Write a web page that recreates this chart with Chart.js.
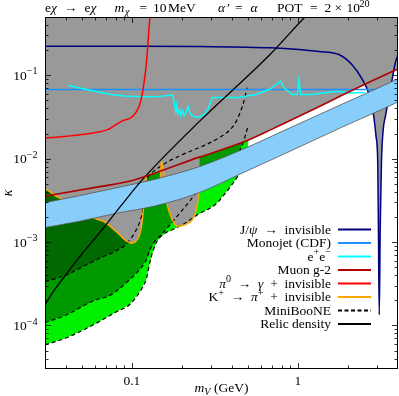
<!DOCTYPE html>
<html>
<head>
<meta charset="utf-8">
<script src="https://cdn.jsdelivr.net/npm/chart.js@4.4.0/dist/chart.umd.min.js"></script>
<style>
  html, body { margin: 0; padding: 0; background: #fff; }
</style>
</head>
<body>
<canvas id="chart" width="399" height="396"></canvas>
<script>
// axes (m_V in GeV, kappa)
const xRange = [0.03, 4];
const yRange = [3e-5, 0.5];
const xMajor = [0.1, 1];
const xMajorLabels = ["0.1", "1"];
const yMajor = [1e-4, 1e-3, 1e-2, 1e-1];
const yMajorExp = ["\u22124", "\u22123", "\u22122", "\u22121"];

// MiniBooNE sensitivity contours (inner -> outer)
const booneInner = [[0.03,0.000334],[0.0405,0.000405],[0.05193,0.00052],[0.0639,0.000639],[0.07861,0.000765],[0.0902,0.000903],[0.09943,0.001127],[0.1065,0.00141],[0.1126,0.00185],[0.1165,0.00244],[0.1198,0.0037],[0.1223,0.0053],[0.1275,0.00634],[0.1367,0.00718],[0.1526,0.00836],[0.1736,0.00973],[0.2012,0.01118],[0.2375,0.01284],[0.2803,0.01474],[0.3355,0.01788],[0.3852,0.0217],[0.4244,0.02782],[0.4484,0.0357],[0.474,0.0497],[0.4941,0.0712],[0.508,0.1773],[0.5222,0.615]];
const booneMiddle = [[0.03,0.000108],[0.0405,0.000134],[0.05881,0.000198],[0.07336,0.000227],[0.08422,0.000275],[0.09672,0.000353],[0.111,0.000465],[0.1223,0.000613],[0.1286,0.000809],[0.1367,0.00101],[0.1464,0.00116],[0.1681,0.00157],[0.1931,0.00219],[0.2216,0.00305],[0.2442,0.00391],[0.3355,0.00718],[0.4484,0.01284],[0.474,0.01692],[0.4975,0.02358],[0.5115,0.0674],[0.5222,0.6]];
const booneOuter = [[0.03,5.85e-5],[0.0405,7.1e-5],[0.05881,0.000102],[0.08082,0.000146],[0.09672,0.000177],[0.1126,0.00026],[0.1223,0.000363],[0.1286,0.00058],[0.1348,0.000809],[0.1424,0.001037],[0.1569,0.001259],[0.1801,0.001445],[0.2068,0.00166],[0.2544,0.00219],[0.2922,0.00251],[0.3219,0.00288],[0.3595,0.0037],[0.3961,0.00475],[0.4244,0.00576],[0.4484,0.00699],[0.501,0.01433],[0.508,0.0294],[0.5151,0.1544],[0.5222,0.6]];

// constraints
const jpsi = [[0.03,0.2231],[0.111,0.2231],[0.2544,0.2213],[0.688,0.2135],[1.014,0.2036],[1.337,0.1927],[1.762,0.1773],[2.109,0.1345],[2.422,0.0913],[2.668,0.0603],[2.858,0.0322],[2.951,0.01838],[3.021,0.00896],[3.05,0.0014],[3.085,0.000134],[3.125,0.0014],[3.179,0.00896],[3.259,0.0223],[3.359,0.0322],[3.6,0.0674],[3.858,0.1422],[4.0,0.175]];
const monojet = [[0.03,0.0674],[4,0.0674]];
const eeData = [[0.04123,0.07591],[0.04847,0.0703],[0.05963,0.06429],[0.0751,0.0587],[0.0902,0.0563],[0.1137,0.05508],[0.1367,0.05508],[0.176,0.0579],[0.1801,0.0471],[0.1839,0.03668],[0.1865,0.0445],[0.1891,0.03471],[0.1931,0.0388],[0.1971,0.03284],[0.2012,0.03772],[0.2068,0.03284],[0.2127,0.03668],[0.2186,0.0421],[0.2232,0.0357],[0.231,0.03284],[0.2408,0.0315],[0.2544,0.0315],[0.2727,0.0338],[0.2882,0.0399],[0.2983,0.0484],[0.3045,0.054],[0.4423,0.054],[0.5571,0.0587],[0.6696,0.0674],[0.7873,0.0848],[0.824,0.0706],[0.9241,0.0587],[0.99,0.0587],[1.0137,0.0889],[1.038,0.0587],[1.218,0.0587],[1.535,0.0625],[1.762,0.0643],[2.023,0.0615],[2.524,0.062]];
const muonG2 = [[0.03,0.00355],[0.0639,0.004615],[0.0967,0.00535],[0.1348,0.00661],[0.2544,0.01043],[0.4611,0.01558],[0.6883,0.0223],[1.164,0.03668],[2.109,0.0656],[3.927,0.1171],[4.0,0.119]];
const pi0Data = [[0.03,0.01764],[0.04033,0.01854],[0.05824,0.02036],[0.07138,0.0223],[0.08659,0.02805],[0.1008,0.03194],[0.1065,0.0367],[0.111,0.0433],[0.1142,0.054],[0.1165,0.0656],[0.119,0.0889],[0.1218,0.1273],[0.1249,0.2338],[0.1266,0.354],[0.1284,0.5],[0.1295,0.7]];
const kaonA = [[0.03,0.00435],[0.032,0.00402],[0.03383,0.0037],[0.03676,0.003358],[0.0405,0.003092],[0.04983,0.00244],[0.0613,0.001879],[0.06846,0.00175],[0.07438,0.00153],[0.08193,0.00129],[0.08902,0.0011],[0.09408,0.00101],[0.09943,0.000968],[0.1051,0.00101],[0.1095,0.001127],[0.1126,0.00133],[0.1149,0.00166],[0.1165,0.00213],[0.1181,0.00281],[0.1198,0.0037],[0.1215,0.00501],[0.1223,0.00626]];
const kaonB = [[0.1485,0.00545],[0.1495,0.00738],[0.1505,0.00934],[0.1537,0.0078],[0.1569,0.0056],[0.1602,0.0037],[0.1624,0.00297],[0.1681,0.00231],[0.1777,0.00175],[0.1878,0.00155],[0.2012,0.00157],[0.2156,0.00166],[0.231,0.00185],[0.2408,0.00219],[0.2476,0.00281],[0.2527,0.0038],[0.2562,0.0056]];
const relic = [[0.03,1.77e-4],[0.0343,2.68e-4],[0.0405,4.17e-4],[0.05193,7.87e-4],[0.0639,1.29e-3],[0.08422,2.58e-3],[0.1157,5.6e-3],[0.2544,0.0278],[0.688,0.1823],[1.101,0.5],[1.337,0.726]];

// muon g-2 favoured band
const bandLow = [[0.03,0.00149],[0.04847,0.001778],[0.08422,0.00225],[0.1348,0.002677],[0.2544,0.00391],[0.4611,0.0067],[0.847,0.01165],[1.762,0.02293],[3.927,0.0471],[4,0.048]];
const bandHigh = [[0.03,0.00297],[0.04847,0.0036],[0.08422,0.00455],[0.1348,0.0056],[0.2544,0.00802],[0.4611,0.01284],[0.847,0.0223],[1.762,0.0433],[3.927,0.0889],[4,0.0905]];

// lower edge of the excluded (grey) region
const grayEdge = [
  ...kaonA,
  [0.1275,0.00638],[0.1348,0.00661],[0.1485,0.00707],[0.1495,0.0037],[0.1569,0.0031],
  ...kaonB.slice(6, 16),
  [0.2562,0.0105],
  ...muonG2.slice(5, 9),
  [2.534,0.0776],
  ...jpsi.slice(9, 20),
  [3.768,0.111],
  ...muonG2.slice(9)
];

const ARROW = "\u2002\u2192\u2002";
const PLUS = "\u2002+\u2002";
const legendLabels = [
  [["J/",""],["\u03c8","i"],[ARROW,""],["invisible",""]],
  [["Monojet (CDF)",""]],
  [["e",""],["+","^"],["e",""],["\u2212","^"]],
  [["Muon g-2",""]],
  [["\u03c0","i"],["0","^"],[ARROW,""],["\u03b3","i"],[PLUS,""],["invisible",""]],
  [["K",""],["+","^"],[ARROW,""],["\u03c0","i"],["+","^"],[PLUS,""],["invisible",""]],
  [["MiniBooNE",""]],
  [["Relic density",""]]
];
const legendColors = ["#000080","#1e90ff","#00ffff","#b00000","#ff0000","#ffa500","#000000","#000000"];

const SERIF = '"Liberation Serif", "Times New Roman", serif';

const pts = arr => arr.map(([x, y]) => ({ x, y }));

function fillSet(data, color) {
  return { data: pts(data), fill: "end", backgroundColor: color, borderColor: "rgba(0,0,0,0)", borderWidth: 0, pointRadius: 0, tension: 0 };
}

function lineSet(data, color, width, extra) {
  return Object.assign({
    data: pts(data), fill: false, borderColor: color, borderWidth: width,
    pointRadius: 0, cubicInterpolationMode: "monotone"
  }, extra || {});
}

function font(style, size) {
  const small = /[\^_]/.test(style);
  return (style.includes("i") ? "italic " : "") + (small ? size * 0.75 : size) + "px " + SERIF;
}

// text with super/subscripts
function richText(ctx, parts, x, y, size, align) {
  let w = 0;
  for (const [t, st] of parts) { ctx.font = font(st, size); w += ctx.measureText(t).width; }
  let cx = align === "right" ? x - w : align === "center" ? x - w / 2 : x;
  ctx.textAlign = "left";
  ctx.textBaseline = "alphabetic";
  for (const [t, st] of parts) {
    ctx.font = font(st, size);
    const dy = st.includes("^") ? -size * 0.4 : st.includes("_") ? size * 0.25 : 0;
    ctx.fillText(t, cx, y + dy);
    cx += ctx.measureText(t).width;
  }
}

function logTicks(range) {
  const out = [];
  for (let e = -6; e <= 1; e++) {
    for (let k = 1; k <= 9; k++) {
      const v = k * Math.pow(10, e);
      if (v > range[0] * 1.001 && v < range[1] * 0.999) out.push([v, k === 1]);
    }
  }
  return out;
}

const decorations = {
  id: "decorations",
  afterDraw(chart) {
    const { ctx, chartArea: a } = chart;
    const xs = chart.scales.x, ys = chart.scales.y;
    ctx.save();
    ctx.fillStyle = "#000";
    ctx.strokeStyle = "#000";

    // inward ticks on all four sides
    ctx.lineWidth = 0.8;
    const seg = (x1, y1, x2, y2) => { ctx.beginPath(); ctx.moveTo(x1, y1); ctx.lineTo(x2, y2); ctx.stroke(); };
    logTicks(xRange).forEach(([v, major]) => {
      const p = Math.round(xs.getPixelForValue(v)) + 0.5, len = major ? 6 : 3.5;
      seg(p, a.bottom, p, a.bottom - len);
      seg(p, a.top, p, a.top + len);
    });
    logTicks(yRange).forEach(([v, major]) => {
      const p = Math.round(ys.getPixelForValue(v)) + 0.5, len = major ? 6 : 3.5;
      seg(a.left, p, a.left + len, p);
      seg(a.right, p, a.right - len, p);
    });

    // frame
    ctx.lineWidth = 1;
    ctx.strokeRect(a.left + 0.5, a.top + 0.5, a.right - a.left - 1, a.bottom - a.top - 1);

    // tick labels
    yMajor.forEach((v, i) => {
      richText(ctx, [["10", ""], [yMajorExp[i], "^"]], 37.5, ys.getPixelForValue(v) + 4.5, 13.5, "right");
    });
    ctx.font = "13.5px " + SERIF;
    ctx.textAlign = "center";
    xMajor.forEach((v, i) => ctx.fillText(xMajorLabels[i], xs.getPixelForValue(v), 385));

    // axis titles
    richText(ctx, [["m", "i"], ["V", "_i"], [" (GeV)", ""]], (a.left + a.right) / 2, 392, 13.5, "center");
    ctx.save();
    ctx.translate(8, (a.top + a.bottom) / 2);
    ctx.rotate(-Math.PI / 2);
    ctx.font = "italic 14px " + SERIF;
    ctx.textAlign = "center";
    ctx.textBaseline = "middle";
    ctx.fillText("\u03ba", 0, 0);
    ctx.restore();

    // title
    const title = [
      ["e","",45],["\u03c7","i",51],["\u2192","",64],["e","",84.5],["\u03c7","i",90.5],
      ["m","i",114.5],["\u03c7","_i",125],["=","",139.5],["10","",153],["MeV","",168],
      ["\u03b1","i",218],["\u2032","",227],["=","",235],["\u03b1","i",250.5],
      ["POT","",277],["=","",310],["2","",324.5],["\u00d7","",334.5],["10","",346.5],["20","^",359.5]
    ];
    title.forEach(([t, st, x]) => richText(ctx, [[t, st]], x, 12, 13.5, "left"));

    // legend
    legendLabels.forEach((parts, i) => {
      const y = 229.5 + i * 13.5;
      richText(ctx, parts, 331, y + 4, 13.5, "right");
      ctx.strokeStyle = legendColors[i];
      ctx.lineWidth = 1.8;
      ctx.setLineDash(i === 6 ? [4, 2.5] : []);
      seg(338, y, 371, y);
    });
    ctx.setLineDash([]);
    ctx.restore();
  }
};

// back to front
const datasets = [
  fillSet(booneOuter, "#00f000"),
  fillSet(booneMiddle, "#009a00"),
  fillSet(booneInner, "#006a00"),
  fillSet(grayEdge, "#999999"),
  lineSet(booneInner.slice(0, 25), "#000", 1.2, { borderDash: [4, 3] }),
  lineSet(booneMiddle.slice(0, 19), "#000", 1.2, { borderDash: [4, 3] }),
  lineSet(booneOuter.slice(0, 20), "#000", 1.2, { borderDash: [4, 3] }),
  lineSet(jpsi, "#000080", 1.5),
  lineSet(monojet, "#1e90ff", 1.6),
  lineSet(kaonA, "#ffa500", 1.5),
  lineSet(kaonB, "#ffa500", 1.5),
  lineSet(bandLow, "rgba(0,0,0,0)", 0),
  lineSet(bandHigh, "#555555", 0.8, { fill: "-1", backgroundColor: "#87cefa" }),
  lineSet(bandLow, "#555555", 0.8),
  lineSet(eeData, "#00ffff", 1.5, { cubicInterpolationMode: "default", tension: 0 }),
  lineSet(pi0Data, "#ff0000", 1.5),
  lineSet(relic, "#000000", 1.3),
  lineSet(muonG2, "#b00000", 1.6)
];
datasets.forEach((d, i) => { d.order = datasets.length - i; });

new Chart(document.getElementById("chart").getContext("2d"), {
  type: "line",
  data: { datasets },
  options: {
    responsive: false,
    animation: false,
    devicePixelRatio: 1,
    layout: { padding: { left: 45, right: 1, top: 17, bottom: 27 } },
    scales: {
      x: { type: "logarithmic", min: xRange[0], max: xRange[1], display: false },
      y: { type: "logarithmic", min: yRange[0], max: yRange[1], display: false }
    },
    plugins: {
      legend: { display: false },
      tooltip: { enabled: false }
    }
  },
  plugins: [decorations]
});
</script>
</body>
</html>
